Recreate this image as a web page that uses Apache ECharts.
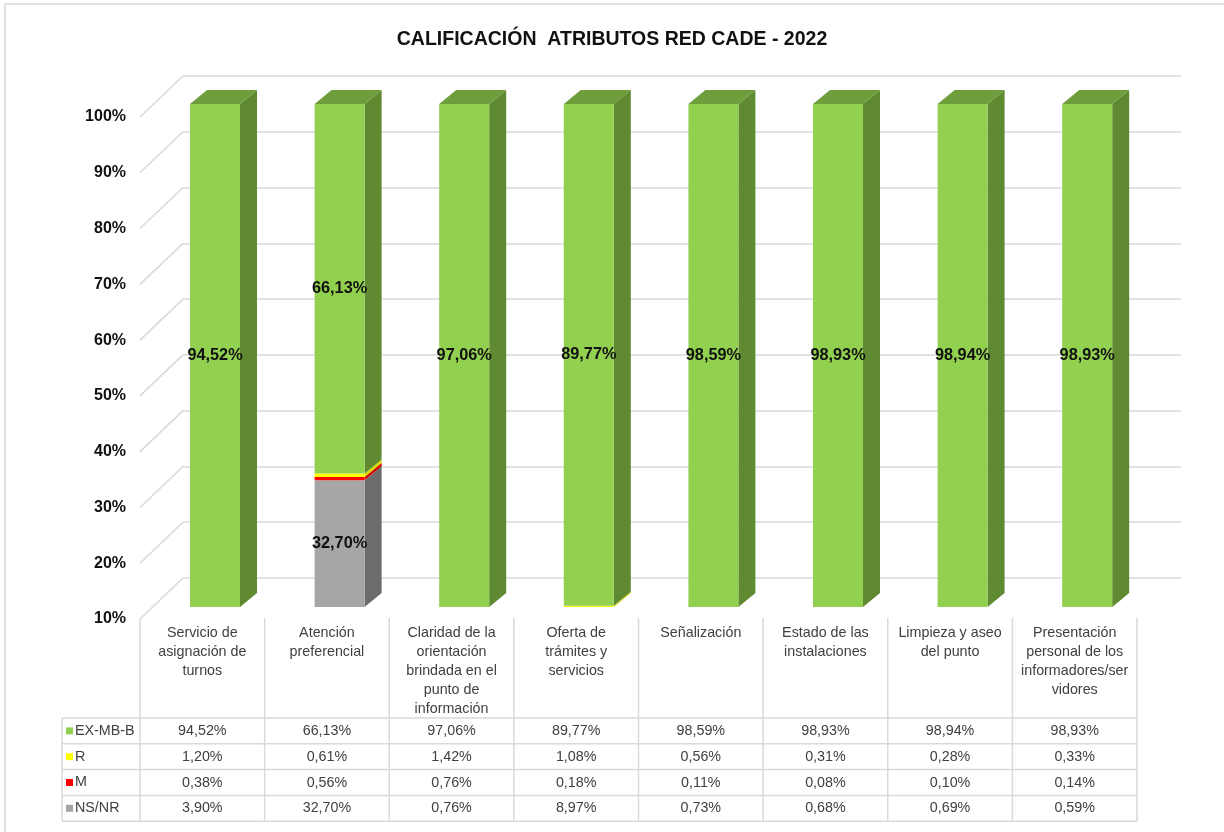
<!DOCTYPE html>
<html>
<head>
<meta charset="utf-8">
<title>Calificación atributos Red CADE 2022</title>
<script src="https://cdn.jsdelivr.net/npm/echarts@6/dist/echarts.min.js"></script>
<style>
    html, body { margin: 0; padding: 0; background: #fff; }
    #main { width: 1224px; height: 832px; }
</style>
</head>
<body>
<div id="main"></div>
<script>
// etiquetas de categoría (con los saltos de línea de la tabla)
var categories = [
    'Servicio de\nasignación de\nturnos',
    'Atención\npreferencial',
    'Claridad de la\norientación\nbrindada en el\npunto de\ninformación',
    'Oferta de\ntrámites y\nservicios',
    'Señalización',
    'Estado de las\ninstalaciones',
    'Limpieza y aseo\ndel punto',
    'Presentación\npersonal de los\ninformadores/ser\nvidores'
];
var exmbb = [94.52, 66.13, 97.06, 89.77, 98.59, 98.93, 98.94, 98.93];
var r     = [1.20, 0.61, 1.42, 1.08, 0.56, 0.31, 0.28, 0.33];
var m     = [0.38, 0.56, 0.76, 0.18, 0.11, 0.08, 0.10, 0.14];
var nsnr  = [3.90, 32.70, 0.76, 8.97, 0.73, 0.68, 0.69, 0.59];
var yTicks = [10, 20, 30, 40, 50, 60, 70, 80, 90, 100];

var FONT = "'Liberation Sans', Arial, sans-serif";
var Y_MIN = 10, Y_MAX = 100;
var BAR_W = 50, DX = 17, DY = 14;   // cara frontal y profundidad de la barra
var TABLE_FS = 14.3;

// filas de la tabla, en el orden en que aparecen
var rows = [
    {name: 'EX-MB-B', data: exmbb, color: '#92D050'},
    {name: 'R', data: r, color: '#FFFF00'},
    {name: 'M', data: m, color: '#FF0000'},
    {name: 'NS/NR', data: nsnr, color: '#A5A5A5'}
];
// apilado de abajo hacia arriba
var stack = [
    {name: 'NS/NR', data: nsnr, face: '#A6A6A6', side: '#6C6C6C', top: '#8C8C8C'},
    {name: 'M', data: m, face: '#FF0000', side: '#D40000', top: '#E00000'},
    {name: 'R', data: r, face: '#FFFF00', side: '#D6D600', top: '#E6E600'},
    {name: 'EX-MB-B', data: exmbb, face: '#92D050', side: '#5F8A32', top: '#6E9E3B'}
];

function fmt(v) {
    return v.toFixed(2).replace('.', ',') + '%';
}

var myChart = echarts.init(document.getElementById('main'));

function segData(k) {
    return categories.map(function (c, i) {
        var start = 0;
        for (var j = 0; j < k; j++) start += stack[j].data[i];
        return [i, start, start + stack[k].data[i], stack[k].data[i]];
    });
}

function barRender(s, isTop) {
    return function (params, api) {
        var lo = Math.max(api.value(1), Y_MIN);
        var hi = Math.min(api.value(2), Y_MAX);
        if (hi <= lo) return;
        var pb = api.coord([api.value(0), lo]);
        var pt = api.coord([api.value(0), hi]);
        var x0 = pb[0] - BAR_W / 2, x1 = pb[0] + BAR_W / 2;
        var yb = pb[1], yt = pt[1];
        var children = [
            {type: 'polygon', shape: {points: [[x1, yb], [x1 + DX, yb - DY], [x1 + DX, yt - DY], [x1, yt]]},
                style: {fill: s.side}},
            {type: 'rect', shape: {x: x0, y: yt, width: BAR_W, height: yb - yt},
                style: {fill: s.face}}
        ];
        if (isTop) {
            children.push({type: 'polygon', shape: {points: [[x0, yt], [x1, yt], [x1 + DX, yt - DY], [x0 + DX, yt - DY]]},
                style: {fill: s.top}});
        }
        if (hi - lo >= 10) {
            children.push({type: 'text', x: pb[0], y: (yb + yt) / 2, z2: 10,
                style: {text: fmt(api.value(3)), align: 'center', verticalAlign: 'middle',
                    fontSize: 16.3, fontWeight: 'bold', fontFamily: FONT, fill: '#111'}});
        }
        return {type: 'group', children: children};
    };
}

var series = stack.map(function (s, k) {
    return {
        type: 'custom',
        name: s.name,
        xAxisIndex: 0,
        yAxisIndex: 0,
        clip: false,
        renderItem: barRender(s, k === stack.length - 1),
        encode: {x: 0, y: [1, 2]},
        data: segData(k)
    };
});

// líneas diagonales de la pared lateral (3D)
series.push({
    type: 'custom',
    xAxisIndex: 2,
    yAxisIndex: 2,
    clip: false,
    silent: true,
    z: 1,
    renderItem: function (params, api) {
        var p = api.coord([0, api.value(1)]);
        return {type: 'line', shape: {x1: p[0], y1: p[1], x2: p[0] + 43, y2: p[1] - 41},
            style: {stroke: '#D9D9D9', lineWidth: 1.5}};
    },
    data: yTicks.map(function (v) { return [0, v]; })
});

// tabla de datos: ejes de valores en la rejilla de la tabla
var TABLE_LEFT = 140, TABLE_RIGHT = 1137, HEAD_TOP = 618, HEAD_BOTTOM = 718, ROW_H = 25.8;

var xAxes = [
    {gridIndex: 0, type: 'category', data: categories, show: false},
    {gridIndex: 1, type: 'value', min: 0, max: 1, show: false},
    {gridIndex: 2, type: 'value', min: 0, max: 1, show: false},
    {gridIndex: 3, type: 'category', position: 'top', data: categories,
        axisLine: {show: false}, axisTick: {show: false},
        axisLabel: {inside: true, interval: 0, margin: 6, verticalAlign: 'top', lineHeight: 19,
            fontSize: TABLE_FS, fontFamily: FONT, color: '#404040'}}
];
rows.forEach(function (row, k) {
    xAxes.push({
        gridIndex: 3, type: 'category', position: 'bottom', offset: ROW_H * k,
        data: row.data.map(fmt),
        axisLine: {show: false}, axisTick: {show: false},
        axisLabel: {interval: 0, margin: 13, verticalAlign: 'middle',
            fontSize: TABLE_FS, fontFamily: FONT, color: '#404040'}
    });
});

var graphics = [
    {type: 'rect', shape: {x: 5, y: 4, width: 1240, height: 860}, silent: true,
        style: {fill: 'none', stroke: '#D9D9D9', lineWidth: 1.5}}
];
// bordes de la tabla
var lineStyle = {stroke: '#D9D9D9', lineWidth: 1.5};
for (var k = 0; k <= rows.length; k++) {
    var y = HEAD_BOTTOM + ROW_H * k;
    graphics.push({type: 'line', shape: {x1: 62, y1: y, x2: TABLE_RIGHT, y2: y}, style: lineStyle});
}
var colW = (TABLE_RIGHT - TABLE_LEFT) / categories.length;
for (var c = 0; c <= categories.length; c++) {
    var x = TABLE_LEFT + colW * c;
    graphics.push({type: 'line', shape: {x1: x, y1: HEAD_TOP, x2: x, y2: HEAD_BOTTOM + ROW_H * rows.length}, style: lineStyle});
}
graphics.push({type: 'line', shape: {x1: 62, y1: HEAD_BOTTOM, x2: 62, y2: HEAD_BOTTOM + ROW_H * rows.length}, style: lineStyle});
// leyenda dentro de la tabla
rows.forEach(function (row, k) {
    var cy = HEAD_BOTTOM + ROW_H * k + ROW_H / 2;
    graphics.push({type: 'rect', shape: {x: 66, y: cy - 3.5, width: 7, height: 7}, style: {fill: row.color}});
    graphics.push({type: 'text', x: 75, y: cy,
        style: {text: row.name, fontSize: TABLE_FS, fontFamily: FONT, fill: '#404040', verticalAlign: 'middle'}});
});

option = {
    backgroundColor: '#fff',
    animation: false,
    title: {
        text: 'CALIFICACIÓN  ATRIBUTOS RED CADE - 2022',
        left: 'center',
        top: 25,
        textStyle: {fontSize: 19.5, fontWeight: 'bold', fontFamily: FONT, color: '#111'}
    },
    grid: [
        {left: 152.7, right: 74.5, top: 104, bottom: 225},   // barras
        {left: 183, right: 43, top: 76, bottom: 254},        // pared del fondo
        {left: 140, right: 1000, top: 117, bottom: 213},     // etiquetas frontales
        {left: TABLE_LEFT, right: 1224 - TABLE_RIGHT, top: HEAD_TOP, bottom: 832 - HEAD_BOTTOM}  // tabla
    ],
    xAxis: xAxes,
    yAxis: [
        {gridIndex: 0, type: 'value', min: Y_MIN, max: Y_MAX, show: false},
        {gridIndex: 1, type: 'value', min: Y_MIN, max: Y_MAX, interval: 10,
            axisLabel: {show: false}, axisLine: {show: false}, axisTick: {show: false},
            splitLine: {show: true, lineStyle: {color: '#D9D9D9', width: 1.5}}},
        {gridIndex: 2, type: 'value', min: Y_MIN, max: Y_MAX, interval: 10,
            axisLine: {show: false}, axisTick: {show: false}, splitLine: {show: false},
            axisLabel: {formatter: '{value}%', margin: 14, fontSize: 16, fontWeight: 'bold',
                fontFamily: FONT, color: '#111'}},
        {gridIndex: 3, type: 'value', show: false}
    ],
    graphic: graphics,
    series: series
};
myChart.setOption(option);
</script>
</body>
</html>
